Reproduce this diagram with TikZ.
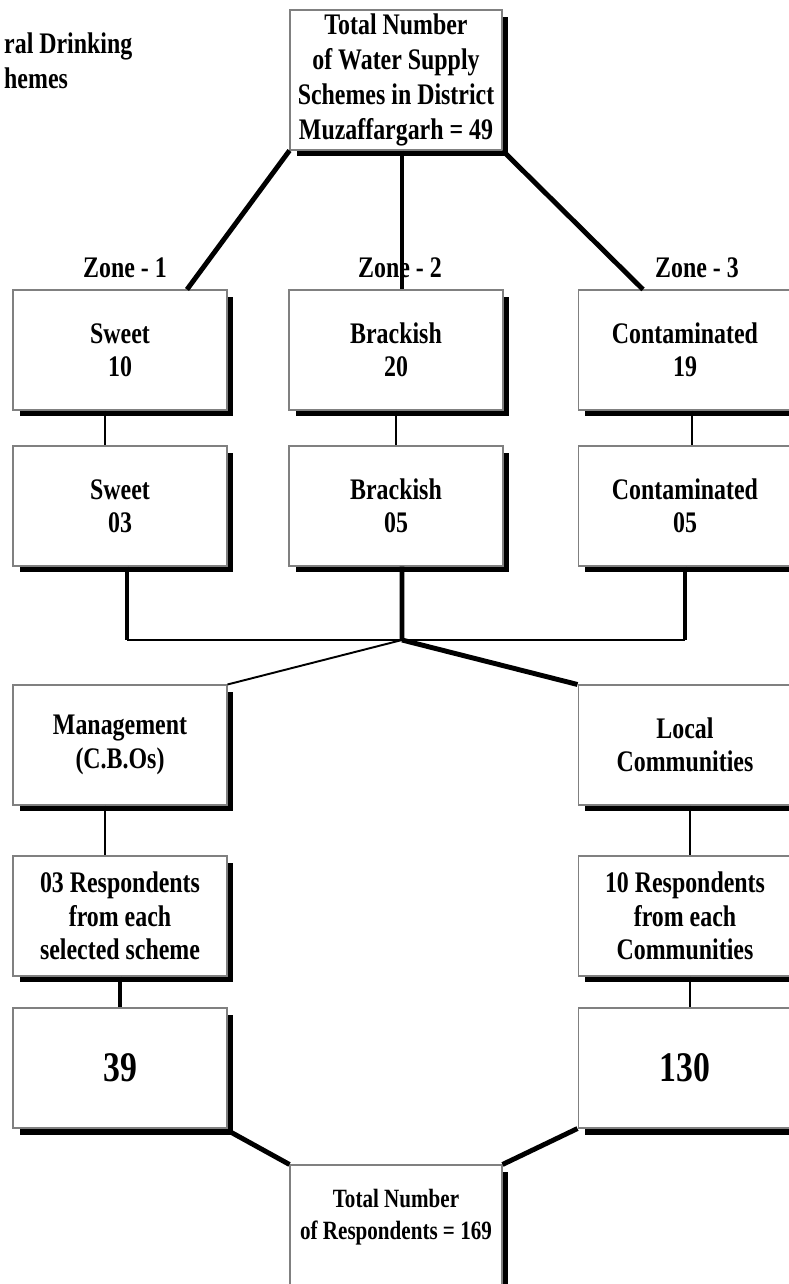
\documentclass[tikz,border=0pt]{standalone}
\usepackage{fontspec}
\setmainfont{Liberation Serif}[FakeStretch=0.8]
\usetikzlibrary{shadows}

\begin{document}
\begin{tikzpicture}[x=0.02cm, y=-0.02cm,
	box/.style={shape=rectangle, draw=gray, line width=0.6pt, fill=white, align=center, inner sep=0pt,
		minimum width=4.28cm, minimum height=2.4cm, font=\fontsize{17}{19}\selectfont\bfseries,
		drop shadow={shadow xshift=0.13cm, shadow yshift=-0.13cm, fill=black, opacity=1}},
	label/.style={font=\fontsize{17}{20}\selectfont\bfseries},
	big/.style={font=\fontsize{24}{28}\selectfont\bfseries},
	slim/.style={line width=1.1pt},
	heavy/.style={line width=2.8pt}]
	\useasboundingbox (0,0) rectangle (788,1284);

	\node[label, anchor=west, align=left] (title) at (-2,61) {ral Drinking\\hemes};

	\node[box, minimum width=4.24cm, minimum height=2.8cm, font=\fontsize{17}{20}\selectfont\bfseries] (total) at (396,80) {Total Number\\of Water Supply\\Schemes in District\\Muzaffargarh = 49};

	\node[label] (zoneA) at (125,268) {Zone - 1};
	\node[label] (zoneB) at (400,268) {Zone - 2};
	\node[label] (zoneC) at (697,268) {Zone - 3};

	\node[box] (sweetA) at (120,350) {Sweet\\10};
	\node[box] (brackA) at (396,350) {Brackish\\20};
	\node[box] (contA) at (685,350) {Contaminated\\19};

	\node[box] (sweetB) at (120,506) {Sweet\\03};
	\node[box] (brackB) at (396,506) {Brackish\\05};
	\node[box] (contB) at (685,506) {Contaminated\\05};

	\node[box] (mgmt) at (120,745) {Management\\(C.B.Os)};
	\node[box] (local) at (685,745) {Local\\Communities};

	\node[box] (respA) at (120,916) {03 Respondents\\from each\\selected scheme};
	\node[box] (respB) at (685,916) {10 Respondents\\from each\\Communities};

	\node[box, big] (sumA) at (120,1068) {39};
	\node[box, big] (sumB) at (685,1068) {130};

	\node[box, minimum width=4.24cm, minimum height=2.6cm, font=\fontsize{15}{18}\selectfont\bfseries] (resp) at (396,1230) {Total Number\\of Respondents = 169\\\mbox{}};

	\draw[heavy] (total.south west) -- ([xshift=1.34cm]sweetA.north);
	\draw[heavy] ([xshift=0.12cm]total.south) -- ([xshift=0.12cm]brackA.north);
	\draw[heavy] (total.south east) -- ([xshift=-0.84cm]contA.north);

	\draw[slim] ([xshift=-0.3cm]sweetA.south) -- ([xshift=-0.3cm]sweetB.north);
	\draw[slim] (brackA.south) -- (brackB.north);
	\draw[slim] ([xshift=0.14cm]contA.south) -- ([xshift=0.14cm]contB.north);

	\coordinate (hub) at (402,640);
	\coordinate (legA) at ([xshift=0.14cm]sweetB.south);
	\coordinate (legB) at ([xshift=0.12cm]brackB.south);
	\coordinate (legC) at (contB.south);
	\draw[heavy] (legA) -- (legA |- hub);
	\draw[heavy] (legB) -- (hub);
	\draw[heavy] (legC) -- (legC |- hub);
	\draw[slim] (legA |- hub) -- (legC |- hub);

	\draw[slim] (hub) -- (mgmt.north east);
	\draw[heavy] (hub) -- (local.north west);

	\draw[slim] ([xshift=-0.3cm]mgmt.south) -- ([xshift=-0.3cm]respA.north);
	\draw[slim] ([xshift=0.1cm]local.south) -- ([xshift=0.1cm]respB.north);

	\draw[heavy] (respA.south) -- (sumA.north);
	\draw[slim] ([xshift=0.1cm]respB.south) -- ([xshift=0.1cm]sumB.north);

	\draw[heavy] ([shift={(0.08cm,-0.08cm)}]sumA.south east) -- (resp.north west);
	\draw[heavy] (sumB.south west) -- (resp.north east);

\end{tikzpicture}
\end{document}
